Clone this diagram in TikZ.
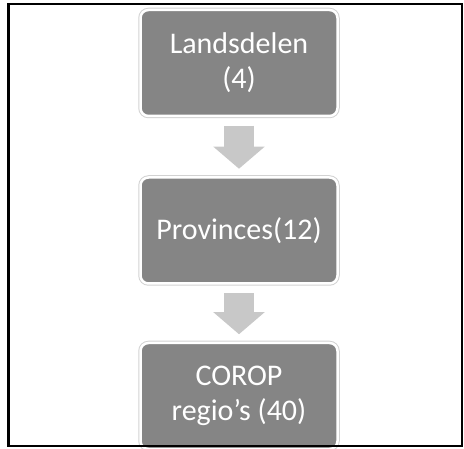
\documentclass[tikz,border=0pt]{standalone}
\usepackage{fontspec}
\setmainfont{Carlito}
\usetikzlibrary{positioning,arrows.meta}

\definecolor{boxgray}{HTML}{858585}
\definecolor{arrowgray}{HTML}{C8C8C8}
\definecolor{rimgray}{HTML}{D2D2D2}

\tikzset{
	levelbox/.style={fill=boxgray, draw=white, line width=2.5pt, rounded corners=8pt,
		preaction={draw=rimgray, line width=4.5pt},
		minimum width=197pt, minimum height=106pt, inner sep=0pt,
		align=center, text=white, font=\fontsize{30}{35}\selectfont},
	levelarrow/.style={draw=arrowgray, line width=30pt,
		-{Triangle[length=22pt, width=50pt]}}
}

\begin{document}
\begin{tikzpicture}[x=1pt,y=1pt]
				\useasboundingbox (0,0) rectangle (464,448);
				
				\node [levelbox] (land) at (239,385) {Landsdelen\\(4)};
				\node [levelbox, below=59pt of land] (prov) {Provinces(12)};
				\node [levelbox, below=57pt of prov] (corop) {COROP\\regio’s (40)};
				
				\draw [levelarrow] ([yshift=-8.5pt]land.south) -- ([yshift=7.5pt]prov.north);
				\draw [levelarrow] ([yshift=-8.5pt]prov.south) -- ([yshift=7.5pt]corop.north);
				
				\draw [line width=2.5pt] (8.5,2) rectangle (462,444);
		\end{tikzpicture}
\end{document}
